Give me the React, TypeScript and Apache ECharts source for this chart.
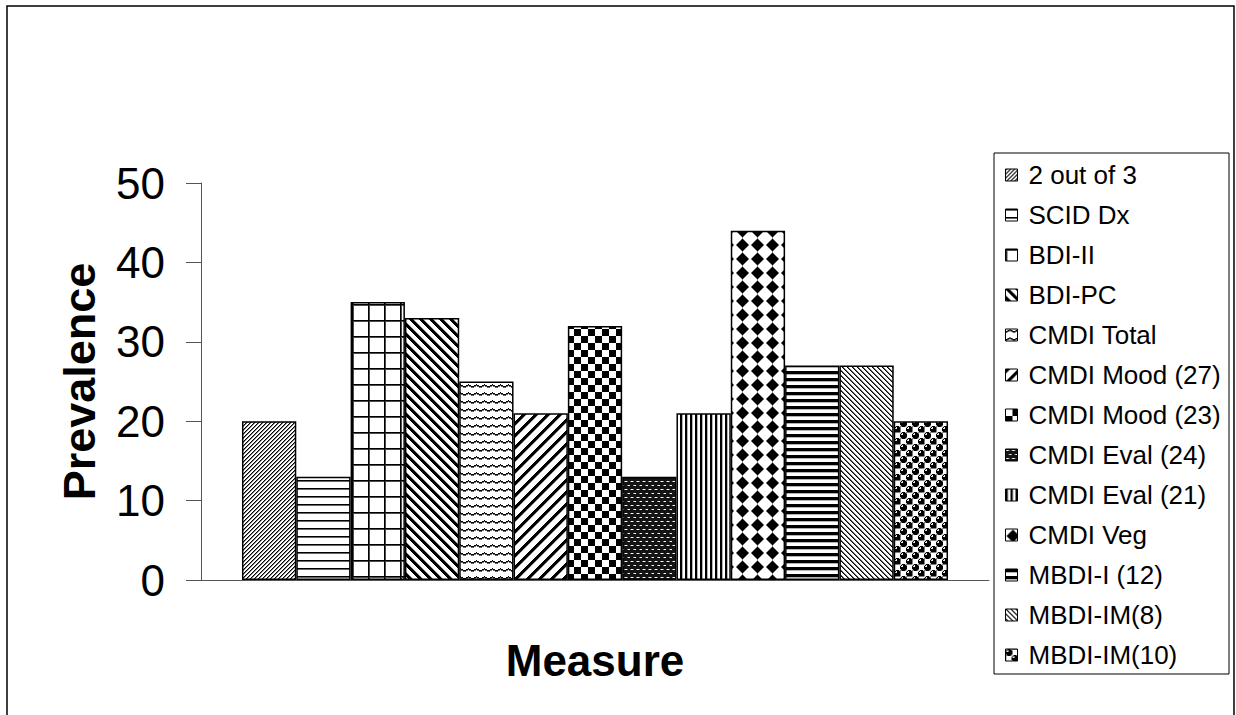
import React, { useEffect, useRef } from "react";
import * as echarts from "echarts";

// Prevalence of depression by measure (one category, one bar per measure)
const measures = [
  "2 out of 3",
  "SCID Dx",
  "BDI-II",
  "BDI-PC",
  "CMDI Total",
  "CMDI Mood (27)",
  "CMDI Mood (23)",
  "CMDI Eval (24)",
  "CMDI Eval (21)",
  "CMDI Veg",
  "MBDI-I (12)",
  "MBDI-IM(8)",
  "MBDI-IM(10)",
];
const prevalence = [20, 13, 35, 33, 25, 21, 32, 13, 21, 44, 27, 27, 20];
const categories = [""];
const yMin = 0;
const yMax = 50;
const yStep = 10;

const FONT = '"Liberation Sans", Arial, sans-serif';

type Shade = (x: number, y: number) => number; // 0 = white, 1 = black

const mod = (a: number, n: number) => ((a % n) + n) % n;

// Builds a small black & white tile that ECharts repeats as a fill pattern
function makeTile(w: number, h: number, shade: Shade) {
  const c = document.createElement("canvas");
  c.width = w;
  c.height = h;
  const ctx = c.getContext("2d")!;
  const img = ctx.createImageData(w, h);
  for (let y = 0; y < h; y++) {
    for (let x = 0; x < w; x++) {
      const v = Math.max(0, Math.min(1, shade(x, y)));
      const g = Math.round(255 * (1 - v));
      const i = (y * w + x) * 4;
      img.data[i] = g;
      img.data[i + 1] = g;
      img.data[i + 2] = g;
      img.data[i + 3] = 255;
    }
  }
  ctx.putImageData(img, 0, 0);
  return { image: c, repeat: "repeat", imageWidth: w, imageHeight: h } as any;
}

function buildPatterns() {
  return [
    // fine forward diagonal
    makeTile(4, 4, (x, y) => {
      const d = mod(x + y, 4);
      return d === 0 ? 1 : d === 1 ? 0.5 : 0;
    }),
    // thin horizontal lines
    makeTile(8, 8, (x, y) => (y === 0 ? 1 : y === 1 ? 0.6 : 0)),
    // grid
    makeTile(16, 16, (x, y) => (x === 0 || y === 0 ? 1 : x === 1 || y === 1 ? 0.7 : 0)),
    // wide backward diagonal
    makeTile(10, 10, (x, y) => {
      const d = mod(x - y, 10);
      return d < 4 ? 1 : d === 4 ? 0.4 : 0;
    }),
    // wave
    makeTile(8, 8, (x, y) => {
      const yc = Math.abs(x - 4) * 0.5;
      const d = mod(y - yc, 8);
      return d < 1 ? 1 : d < 2 ? 0.6 : 0;
    }),
    // wide forward diagonal
    makeTile(12, 12, (x, y) => {
      const d = mod(x + y, 12);
      return d < 4 ? 1 : d === 4 ? 0.4 : 0;
    }),
    // large checkerboard
    makeTile(14, 14, (x, y) => ((x < 7) !== (y < 7) ? 1 : 0)),
    // dark with small white dots
    makeTile(6, 8, (x, y) => {
      if (y === 1 && (x === 1 || x === 2)) return 0;
      if (y === 5 && (x === 4 || x === 5)) return 0;
      if ((y === 1 && (x === 0 || x === 3)) || (y === 5 && x === 3)) return 0.5;
      return 0.92;
    }),
    // vertical lines
    makeTile(5, 1, (x) => (x < 2 ? 1 : x === 2 ? 0.3 : 0)),
    // diamonds
    makeTile(15, 14, (x, y) => {
      const d = Math.abs(x + 0.5 - 7.5) + Math.abs(y + 0.5 - 7);
      return d <= 5.5 ? 1 : d <= 6.5 ? 0.5 : 0;
    }),
    // thick horizontal lines
    makeTile(7, 7, (x, y) => (y < 3 ? 1 : y === 3 ? 0.3 : 0)),
    // fine backward diagonal
    makeTile(5, 5, (x, y) => {
      const d = mod(x - y, 5);
      return d === 0 ? 1 : d === 1 ? 0.6 : 0;
    }),
    // shaded spheres
    makeTile(12, 12, (x, y) => {
      const balls = [
        [3.5, 3.5],
        [9.5, 9.5],
      ];
      for (const [cx, cy] of balls) {
        const dx = x + 0.5 - cx;
        const dy = y + 0.5 - cy;
        const r = Math.sqrt(dx * dx + dy * dy);
        if (r <= 3.6) {
          const hx = dx + 1.2;
          const hy = dy + 1.2;
          if (Math.sqrt(hx * hx + hy * hy) < 1.1) return 0.1;
          return 1;
        }
      }
      const inOther = (x >= 6) !== (y >= 6);
      if (inOther) {
        const ex = x % 6;
        const ey = y % 6;
        return ex === 0 || ey === 0 ? 0.5 : 0;
      }
      return 0.2;
    }),
  ];
}

export default function App() {
  const ref = useRef<HTMLDivElement>(null);

  useEffect(() => {
    if (!ref.current) return;
    const chart = echarts.init(ref.current, null, { renderer: "svg" });
    const patterns = buildPatterns();

    const series = measures.map((name, i) => ({
      name,
      type: "bar",
      data: [prevalence[i]],
      barGap: "0%",
      barCategoryGap: "10.4%",
      itemStyle: {
        color: patterns[i],
        borderColor: "#000",
        borderWidth: 1.5,
      },
      emphasis: { disabled: true },
    }));

    chart.setOption({
      animation: false,
      backgroundColor: "#fff",
      textStyle: { fontFamily: FONT },
      grid: { left: 201, top: 183, right: 247, bottom: 135, containLabel: false },
      xAxis: {
        type: "category",
        data: categories,
        name: "Measure",
        nameLocation: "middle",
        nameGap: 58,
        nameTextStyle: { fontSize: 44, fontWeight: "bold", color: "#000", fontFamily: FONT },
        axisLine: { show: true, lineStyle: { color: "#555", width: 1 } },
        axisTick: { show: false },
        axisLabel: { show: false },
      },
      yAxis: {
        type: "value",
        min: yMin,
        max: yMax,
        interval: yStep,
        name: "Prevalence",
        nameLocation: "middle",
        nameGap: 99,
        nameTextStyle: { fontSize: 45, fontWeight: "bold", color: "#000", fontFamily: FONT },
        axisLine: { show: true, lineStyle: { color: "#555", width: 1 } },
        axisTick: { show: true, inside: false, length: 15, lineStyle: { color: "#555", width: 1 } },
        axisLabel: { fontSize: 44, color: "#000", margin: 36, fontFamily: FONT },
        splitLine: { show: false },
      },
      legend: {
        orient: "vertical",
        left: 1005,
        top: 162,
        padding: 0,
        itemWidth: 12,
        itemHeight: 12,
        itemGap: 14,
        icon: "rect",
        selectedMode: false,
        data: measures,
        itemStyle: { borderWidth: 1, borderColor: "#000" },
        textStyle: {
          fontSize: 26,
          lineHeight: 26,
          color: "#000",
          fontFamily: FONT,
          padding: [0, 0, 0, 6],
        },
      },
      graphic: [
        {
          type: "rect",
          silent: true,
          shape: { x: 7, y: 6, width: 1227, height: 740 },
          style: { fill: "none", stroke: "#000", lineWidth: 1.5 },
        },
        {
          type: "rect",
          silent: true,
          shape: { x: 994, y: 153, width: 235, height: 521 },
          style: { fill: "none", stroke: "#000", lineWidth: 1 },
        },
      ],
      series,
    });

    return () => chart.dispose();
  }, []);

  return (
    <div
      ref={ref}
      style={{ position: "fixed", left: 0, top: 0, width: 1236, height: 715 }}
    />
  );
}
